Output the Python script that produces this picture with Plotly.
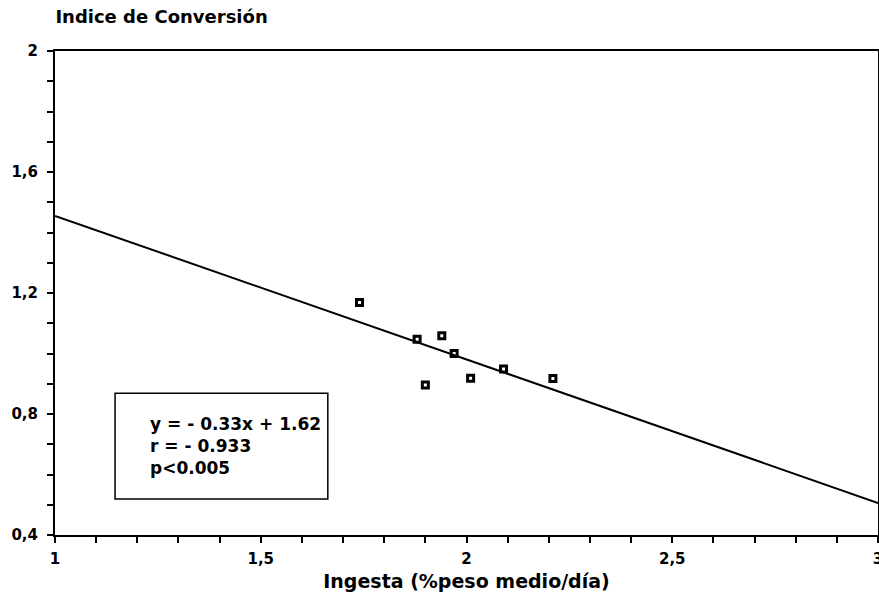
import plotly.graph_objects as go

# Data
ingesta = [1.74, 1.88, 1.94, 1.97, 1.90, 2.01, 2.09, 2.21]
indice = [1.169, 1.047, 1.059, 1.000, 0.896, 0.918, 0.949, 0.917]
line_x = [1.0, 3.0]
line_y = [1.455, 0.506]

x_ticks = [1, 1.5, 2, 2.5, 3]
x_labels = ["1", "1,5", "2", "2,5", "3"]
y_ticks = [0.4, 0.8, 1.2, 1.6, 2.0]
y_labels = ["0,4", "0,8", "1,2", "1,6", "2"]
stats_text = ["y = - 0.33x + 1.62", "r = - 0.933", "p<0.005"]

FONT = "DejaVu Sans, Arial, sans-serif"

fig = go.Figure()
fig.add_trace(go.Scatter(x=line_x, y=line_y, mode="lines",
                         line=dict(color="black", width=2), showlegend=False,
                         hoverinfo="skip"))
fig.add_trace(go.Scatter(x=ingesta, y=indice, mode="markers",
                         marker=dict(symbol="square-open", size=6, color="black",
                                     line=dict(color="black", width=3)),
                         showlegend=False))

axis_common = dict(showline=True, linecolor="black", linewidth=2, mirror=True,
                   ticks="outside", ticklen=6, tickwidth=2, tickcolor="black",
                   showgrid=False, zeroline=False, ticklabeloverflow="allow",
                   automargin=False,
                   tickfont=dict(family=FONT, size=15, color="black", weight="bold"))

fig.update_xaxes(range=[1, 3], tickvals=x_ticks, ticktext=x_labels,
                 minor=dict(dtick=0.1, tick0=1, ticks="outside", ticklen=6,
                            tickwidth=2, tickcolor="black"),
                 ticklabelstandoff=3,
                 title=dict(text="<b>Ingesta (%peso medio/día)</b>",
                            font=dict(family=FONT, size=19, color="black"),
                            standoff=8),
                 **axis_common)
fig.update_yaxes(range=[0.4, 2.0], tickvals=y_ticks, ticktext=y_labels,
                 minor=dict(dtick=0.1, tick0=0.4, ticks="outside", ticklen=6,
                            tickwidth=2, tickcolor="black"),
                 ticklabelstandoff=6,
                 **axis_common)

# stats box
fig.add_shape(type="rect", xref="x", yref="y", x0=1.146, x1=1.663, y0=0.519, y1=0.869,
              line=dict(color="black", width=1.5), fillcolor="white", layer="above")
fig.add_annotation(xref="x", yref="y", x=1.225, y=0.694, xanchor="left", yanchor="middle",
                   text="<br>".join("<b>%s</b>" % t for t in stats_text), showarrow=False,
                   align="left", font=dict(family=FONT, size=17, color="black"))

fig.update_layout(
    width=879, height=603,
    margin=dict(l=55, r=1, t=51, b=68),
    paper_bgcolor="white", plot_bgcolor="white",
    title=dict(text="<b>Indice de Conversión</b>", x=0.063, xanchor="left",
               y=0.982, yanchor="top",
               font=dict(family=FONT, size=18, color="black")),
)

fig.write_html("out.html")
